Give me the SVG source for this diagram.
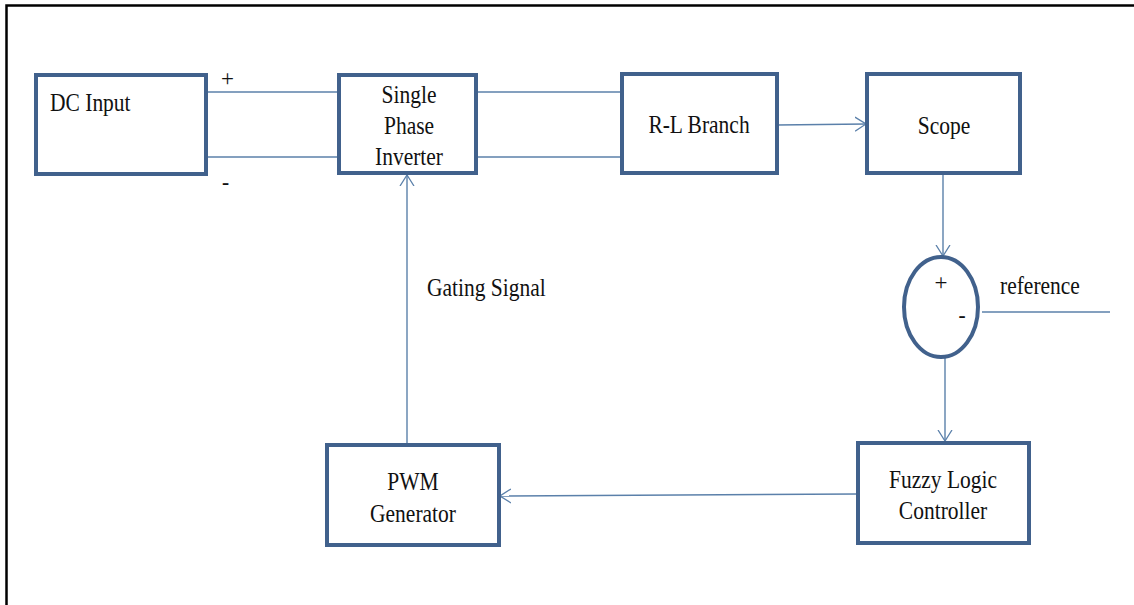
<svg xmlns="http://www.w3.org/2000/svg" width="1134" height="605" viewBox="0 0 1134 605">
<style>
.box{fill:#ffffff;stroke:#41618c;stroke-width:4}
.sum{fill:#ffffff;stroke:#41618c;stroke-width:4}
.wire{fill:none;stroke:#5b80aa;stroke-width:1.4}
.t{font-family:"Liberation Serif","Times New Roman",serif;font-size:21.5px;fill:#111111}
.s{font-family:"Liberation Serif","Times New Roman",serif;font-size:23px;fill:#111111}
.m{text-anchor:middle}
</style>
<defs>
<marker id="arr" viewBox="0 0 12 16" refX="11" refY="8" markerWidth="12" markerHeight="16" markerUnits="userSpaceOnUse" orient="auto">
<path d="M0,1 L11,8 L0,15" fill="none" stroke="#5b80aa" stroke-width="1.3"/>
</marker>
</defs>
<rect x="0" y="0" width="1134" height="605" fill="#ffffff"/>
<path d="M6.5,605 L6.5,5.5 L1134,5.5" fill="none" stroke="#000000" stroke-width="2.5"/>

<g id="connectors">
<line class="wire" x1="206" y1="92" x2="339" y2="92"/>
<line class="wire" x1="206" y1="157" x2="339" y2="157"/>
<line class="wire" x1="476" y1="92" x2="622" y2="92"/>
<line class="wire" x1="476" y1="157" x2="622" y2="157"/>
<line class="wire" x1="777" y1="125" x2="866" y2="124" marker-end="url(#arr)"/>
<line class="wire" x1="943" y1="174" x2="943" y2="256" marker-end="url(#arr)"/>
<line class="wire" x1="945" y1="358" x2="945" y2="441" marker-end="url(#arr)"/>
<line class="wire" x1="982" y1="312" x2="1110" y2="312"/>
<line class="wire" x1="857" y1="494" x2="500" y2="496" marker-end="url(#arr)"/>
<line class="wire" x1="407" y1="444" x2="407" y2="175" marker-end="url(#arr)"/>
<text class="s" x="221" y="86">+</text>
<text class="t" x="222" y="189" font-weight="bold">-</text>
<g transform="translate(427,296) scale(1,1.2)"><text class="t" x="0" y="0">Gating  Signal</text></g>
<g transform="translate(1000,294) scale(1,1.2)"><text class="t" x="0" y="0">reference</text></g>
</g>

<g id="dc-input">
<rect class="box" x="36" y="75" width="170" height="99"/>
<g transform="translate(50,111) scale(1,1.2)"><text class="t" x="0" y="0">DC Input</text></g>
</g>

<g id="inverter">
<rect class="box" x="339" y="75" width="137" height="98"/>
<g transform="translate(409,103) scale(1,1.2)"><text class="t m" x="0" y="0">Single</text></g>
<g transform="translate(409,134) scale(1,1.2)"><text class="t m" x="0" y="0">Phase</text></g>
<g transform="translate(409,165) scale(1,1.2)"><text class="t m" x="0" y="0">Inverter</text></g>
</g>

<g id="rl-branch">
<rect class="box" x="622" y="74" width="155" height="99"/>
<g transform="translate(699,133) scale(1,1.2)"><text class="t m" x="0" y="0">R-L Branch</text></g>
</g>

<g id="scope">
<rect class="box" x="867" y="74" width="153" height="99"/>
<g transform="translate(944,134) scale(1,1.2)"><text class="t m" x="0" y="0">Scope</text></g>
</g>

<g id="summer">
<ellipse class="sum" cx="941" cy="307" rx="37" ry="50"/>
<text class="s m" x="941" y="290">+</text>
<text class="t m" x="962" y="322" font-weight="bold">-</text>
</g>

<g id="fuzzy">
<rect class="box" x="858" y="443" width="171" height="100"/>
<g transform="translate(943,488) scale(1,1.2)"><text class="t m" x="0" y="0">Fuzzy  Logic</text></g>
<g transform="translate(943,519) scale(1,1.2)"><text class="t m" x="0" y="0">Controller</text></g>
</g>

<g id="pwm">
<rect class="box" x="327" y="445" width="172" height="100"/>
<g transform="translate(413,490) scale(1,1.2)"><text class="t m" x="0" y="0">PWM</text></g>
<g transform="translate(413,522) scale(1,1.2)"><text class="t m" x="0" y="0">Generator</text></g>
</g>
</svg>
